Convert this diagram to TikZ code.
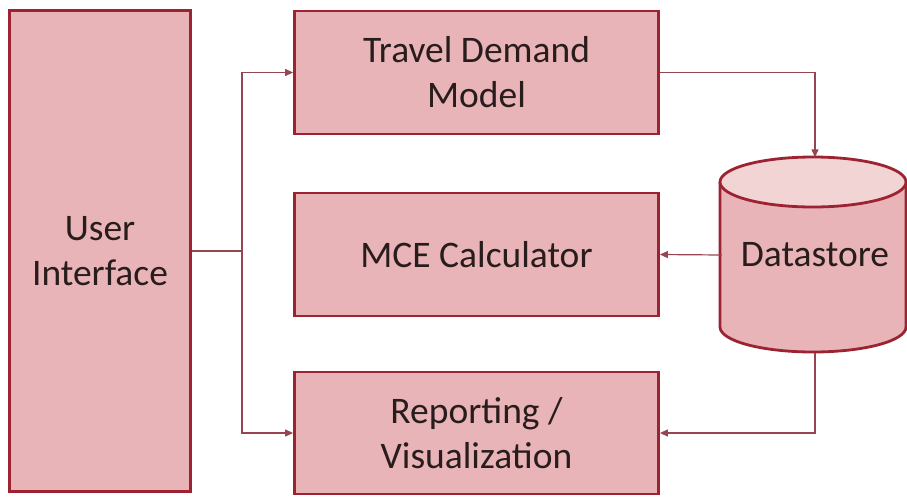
\documentclass[tikz,border=0pt]{standalone}
\usepackage{fontspec}
\setmainfont{Carlito}
\usetikzlibrary{arrows.meta}
\definecolor{edge}{RGB}{155,35,50}
\definecolor{boxfill}{RGB}{232,180,183}
\definecolor{capfill}{RGB}{242,212,213}
\definecolor{wirecol}{RGB}{150,70,80}
\definecolor{ink}{RGB}{40,28,28}

\begin{document}
\begin{tikzpicture}[x=1pt,y=1pt,
  block/.style={draw=edge, fill=boxfill, line width=2.8pt, align=center,
    text=ink, font=\fontsize{37.5}{45}\selectfont, inner sep=0pt},
  wire/.style={draw=wirecol, line width=1.2pt},
  tip/.style={-{Triangle[length=8pt,width=7pt]}}]
\useasboundingbox (0,0) rectangle (907,-496);

% process blocks
\node[block, minimum width=181pt, minimum height=481pt] (ui) at (100,-251) {User\\Interface};
\node[block, minimum width=364pt, minimum height=123pt] (tdm) at (476.5,-72.5) {Travel Demand\\Model};
\node[block, minimum width=364pt, minimum height=123pt] (mce) at (476.5,-254.5) {MCE Calculator};
\node[block, minimum width=364pt, minimum height=122pt] (rep) at (476.5,-433) {Reporting /\\Visualization};

% datastore cylinder
\path[fill=boxfill] (720,-182) -- (720,-327)
  arc[start angle=180, end angle=360, x radius=93, y radius=25] -- (906,-182) -- cycle;
\draw[draw=edge, line width=2.8pt] (720,-182) -- (720,-327)
  arc[start angle=180, end angle=360, x radius=93, y radius=25] -- (906,-182);
\draw[draw=edge, fill=capfill, line width=2.8pt] (813,-182) ellipse[x radius=93, y radius=25];
\node[text=ink, font=\fontsize{37.5}{45}\selectfont, inner sep=0pt,
  minimum width=186pt, minimum height=195pt] (ds) at (815,-255) {Datastore};

% connectors
\coordinate (hub) at (242,-251);
\draw[wire] (ui.east) -- (hub);
\draw[wire, tip] (hub) |- (tdm.west);
\draw[wire, tip] (hub) |- (rep.west);
\draw[wire, tip] (tdm.east) -| (ds.north);
\draw[wire, tip] (ds.west) -- (mce.east);
\draw[wire, tip] (ds.south) |- (rep.east);
\end{tikzpicture}
\end{document}
